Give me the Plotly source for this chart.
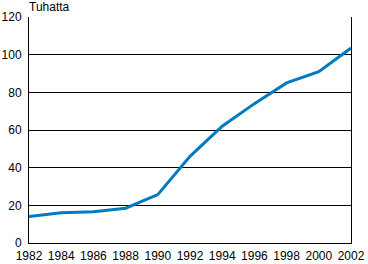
import plotly.graph_objects as go

years = [1982, 1984, 1986, 1988, 1990, 1992, 1994, 1996, 1998, 2000, 2002]
values = [14.0, 16.0, 16.6, 18.5, 25.7, 46.0, 62.0, 74.0, 85.0, 91.0, 103.5]
x_ticks = list(range(1982, 2003, 2))
y_ticks = [0, 20, 40, 60, 80, 100, 120]
unit_label = "Tuhatta"

fig = go.Figure()
fig.add_trace(go.Scatter(
    x=years, y=values, mode="lines",
    line=dict(color="#007AC0", width=3),
    showlegend=False, hoverinfo="skip",
))

font = dict(family="Liberation Sans, Arial, sans-serif", size=12, color="#000000")

fig.update_layout(
    width=368, height=264,
    margin=dict(l=29, r=17, t=17, b=21, autoexpand=False),
    paper_bgcolor="white", plot_bgcolor="white",
    font=font,
    xaxis=dict(
        range=[1982, 2002], tickvals=x_ticks, ticktext=[str(v) for v in x_ticks],
        showgrid=False, zeroline=False, showline=True, linecolor="#000000", linewidth=1,
        ticks="", ticklabelstandoff=2, tickfont=font, fixedrange=True, automargin=False,
    ),
    yaxis=dict(
        range=[0, 120], tickvals=y_ticks,
        showgrid=True, gridcolor="#000000", gridwidth=1,
        zeroline=False, showline=True, linecolor="#000000", linewidth=1, mirror=True,
        ticks="", ticklabelstandoff=4, tickfont=font, fixedrange=True, automargin=False,
    ),
    annotations=[dict(
        text=unit_label, xref="paper", yref="paper", x=0, y=1,
        xanchor="left", yanchor="bottom", showarrow=False, font=font,
        xshift=-2, yshift=1,
    )],
)

fig.write_html("out.html")
